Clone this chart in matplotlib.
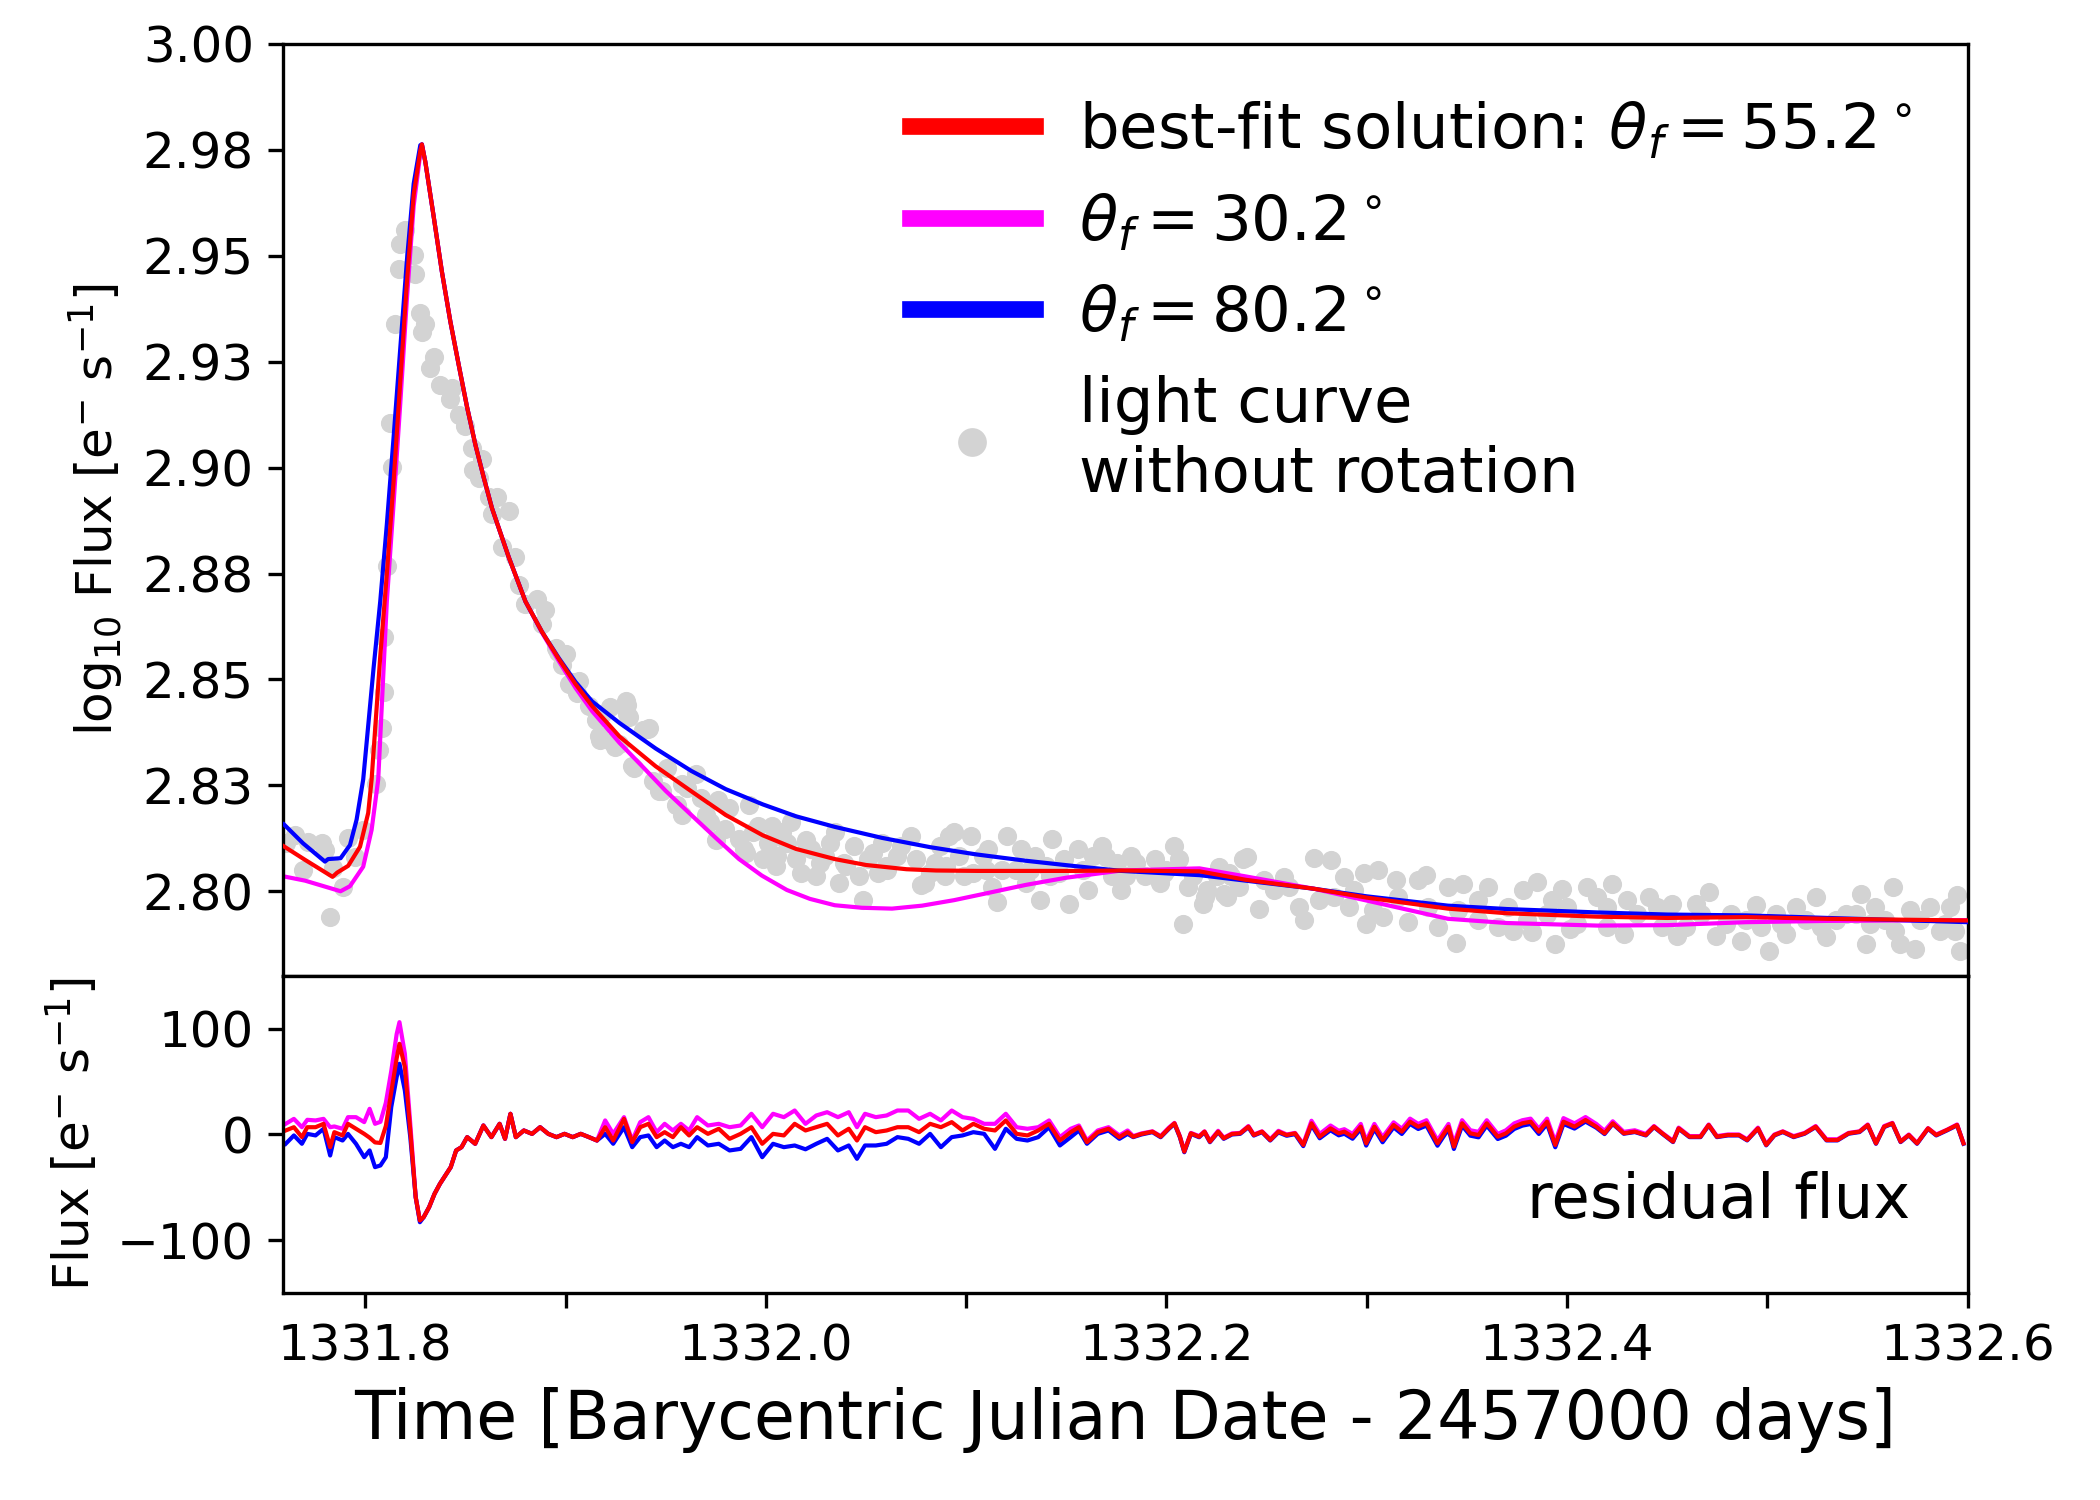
import matplotlib
matplotlib.use("Agg")
import matplotlib.pyplot as plt

# light curve without rotation (log10 flux)
lc_time = [
    1331.7607, 1331.7649, 1331.7716, 1331.7782, 1331.7799, 1331.7691, 1331.7840, 1331.7890, 1331.7824, 1331.7915,
    1331.7949, 1331.7990, 1331.8056,
    1331.8067, 1331.8083, 1331.8092, 1331.8095, 1331.8108, 1331.8125, 1331.8133, 1331.8150, 1331.8167,
    1331.8175, 1331.8200, 1331.8242, 1331.8250, 1331.8275, 1331.8283, 1331.8300, 1331.8325, 1331.8342, 1331.8375,
    1331.8425, 1331.8433, 1331.8467, 1331.8500, 1331.8533, 1331.8538, 1331.8567, 1331.8583, 1331.8617, 1331.8633,
    1331.8658, 1331.8683, 1331.8717, 1331.8750, 1331.8767, 1331.8800, 1331.8858, 1331.8883, 1331.8900, 1331.8950,
    1331.9000, 1331.9017, 1331.9067, 1331.9117, 1331.9167, 1331.9183, 1331.9233, 1331.9267, 1331.9300, 1331.9308,
    1331.9333, 1331.9417, 1331.9467, 1331.9550,
    1331.8960, 1331.8983, 1331.9031, 1331.9055, 1331.9150, 1331.9222, 1331.9305, 1331.9317, 1331.9174, 1331.9246,
    1331.9389, 1331.9413, 1331.9341, 1331.9484, 1331.9556, 1331.9604, 1331.9651, 1331.9675, 1331.9759, 1331.9699,
    1331.9795, 1331.9866, 1331.9914, 1331.9962, 1331.9985, 1332.0033, 1332.0081, 1332.0128, 1332.0176, 1332.0224,
    1332.0272, 1332.0319, 1332.0343, 1332.0367, 1332.0439, 1332.0486, 1332.0510, 1332.0558, 1332.0582, 1332.0653,
    1332.0725, 1332.0773, 1332.0821, 1332.0868, 1332.0916, 1332.0940, 1332.0987, 1332.1023, 1332.1083, 1332.1131,
    1332.1154, 1332.1202, 1332.1250, 1332.1298, 1332.1345, 1332.1369, 1332.1429, 1332.1465, 1332.1512, 1332.1560,
    1332.1608, 1332.1679, 1332.1727, 1332.1775, 1332.1823, 1332.1894, 1332.1966, 1332.2037, 1332.2085, 1332.2109,
    1332.2181, 1332.2252, 1332.2300, 1332.2383,
    1331.9580, 1331.9750, 1331.9900, 1332.0050, 1332.0200, 1332.0400, 1332.0600, 1332.0900, 1332.1100, 1332.1400,
    1332.1700, 1332.2000,
    1332.0009, 1332.0057, 1332.0105, 1332.0152, 1332.0200, 1332.0248, 1332.0296, 1332.0391, 1332.0463, 1332.0534,
    1332.0606, 1332.0677, 1332.0749, 1332.0797, 1332.0844, 1332.0892, 1332.0964, 1332.1035, 1332.1107, 1332.1178,
    1332.1274, 1332.1321, 1332.1417, 1332.1488, 1332.1584, 1332.1632, 1332.1751, 1332.1799, 1332.1847, 1332.1942,
    1332.1990, 1332.2061, 1332.2133, 1332.2204, 1332.2324,
    1331.9437, 1331.9508, 1331.9580, 1331.9723, 1331.9818, 1331.9890, 1331.9938,
    1332.2190, 1332.2264, 1332.2289, 1332.2401, 1332.2463, 1332.2488, 1332.2587, 1332.2661, 1332.2686, 1332.2736,
    1332.2822, 1332.2835, 1332.2884, 1332.2909, 1332.2984, 1332.2996, 1332.3058, 1332.3083, 1332.3145, 1332.3207,
    1332.3257, 1332.3294, 1332.3356, 1332.3405, 1332.3443, 1332.3480, 1332.3554, 1332.3604, 1332.3654, 1332.3728,
    1332.3778, 1332.3827, 1332.3852, 1332.3926, 1332.3939, 1332.3976, 1332.4013, 1332.4100, 1332.4150, 1332.4199,
    1332.4224, 1332.4286, 1332.4299, 1332.4410, 1332.4472, 1332.4522, 1332.4547, 1332.4646, 1332.4708, 1332.4745,
    1332.4820, 1332.4870, 1332.4944, 1332.5006, 1332.5043, 1332.5093, 1332.5142, 1332.5241, 1332.5291, 1332.5341,
    1332.5390, 1332.5465, 1332.5490, 1332.5539, 1332.5589, 1332.5626, 1332.5663, 1332.5713, 1332.5738, 1332.5812,
    1332.5862, 1332.5911, 1332.5949, 1332.5961,
    1332.2314, 1332.2363, 1332.2537, 1332.2612, 1332.2760, 1332.2934, 1332.3033, 1332.3157, 1332.3306, 1332.3455,
    1332.3554, 1332.3703, 1332.3802, 1332.3902, 1332.4001, 1332.4051, 1332.4200, 1332.4348, 1332.4447, 1332.4497,
    1332.4596, 1332.4671, 1332.4795, 1332.4894, 1332.4969, 1332.5068, 1332.5192, 1332.5266, 1332.5440, 1332.5514,
    1332.5638, 1332.5763, 1332.5887, 1332.5936,
]
lc_flux = [
    2.8114, 2.8133, 2.8117, 2.8114, 2.8098, 2.8050, 2.8054, 2.8010, 2.7939, 2.8125,
    2.8082, 2.8145, 2.8252,
    2.8333, 2.8385, 2.8470, 2.8599, 2.8768, 2.9105, 2.9002, 2.9339, 2.9469,
    2.9527, 2.9560, 2.9501, 2.9456, 2.9365, 2.9319, 2.9339, 2.9235, 2.9261, 2.9196,
    2.9163, 2.9189, 2.9125, 2.9099, 2.9047, 2.8995, 2.8976, 2.9021, 2.8930, 2.8891,
    2.8930, 2.8813, 2.8898, 2.8788, 2.8723, 2.8677, 2.8690, 2.8632, 2.8664, 2.8573,
    2.8560, 2.8489, 2.8496, 2.8437, 2.8366, 2.8418, 2.8353, 2.8347, 2.8450, 2.8418,
    2.8295, 2.8385, 2.8236, 2.8204,
    2.8565, 2.8533, 2.8493, 2.8469, 2.8404, 2.8436, 2.8440, 2.8412, 2.8356, 2.8340,
    2.8380, 2.8384, 2.8292, 2.8236, 2.8204, 2.8244, 2.8276, 2.8220, 2.8216, 2.8180,
    2.8147, 2.8123, 2.8204, 2.8155, 2.8075, 2.8155, 2.8139, 2.8163, 2.8043, 2.8099,
    2.8067, 2.8115, 2.8139, 2.8019, 2.8107, 2.7979, 2.8075, 2.8043, 2.8115, 2.8083,
    2.8131, 2.8015, 2.8043, 2.8107, 2.8131, 2.8139, 2.8035, 2.8131, 2.8083, 2.8011,
    2.7975, 2.8131, 2.8051, 2.8019, 2.8083, 2.7979, 2.8123, 2.8043, 2.7971, 2.8099,
    2.8003, 2.8107, 2.8035, 2.8003, 2.8083, 2.8035, 2.8019, 2.8107, 2.7922, 2.8011,
    2.7971, 2.8035, 2.7987, 2.8075,
    2.8180, 2.8120, 2.8090, 2.8060, 2.8120, 2.8060, 2.8060, 2.8060, 2.8050, 2.8060,
    2.8080, 2.8050,
    2.8115, 2.8083, 2.8115, 2.8075, 2.8115, 2.8035, 2.8083, 2.8067, 2.8035, 2.8091,
    2.8051, 2.8107, 2.8075, 2.8019, 2.8067, 2.8035, 2.8083, 2.8043, 2.8099, 2.8051,
    2.8099, 2.8051, 2.8035, 2.8075, 2.8051, 2.8083, 2.8067, 2.8035, 2.8067, 2.8075,
    2.8043, 2.8075, 2.8035, 2.8003, 2.8035,
    2.8260, 2.8292, 2.8252, 2.8163, 2.8196, 2.8099, 2.8139,
    2.7986, 2.8058, 2.7994, 2.8082, 2.7959, 2.8026, 2.8034, 2.7963, 2.7931, 2.8078,
    2.8074, 2.7986, 2.8034, 2.7963, 2.8042, 2.7923, 2.8050, 2.7939, 2.8026, 2.7927,
    2.8026, 2.8038, 2.7915, 2.8010, 2.7879, 2.8018, 2.7979, 2.8010, 2.7915, 2.7907,
    2.8002, 2.7903, 2.8022, 2.7979, 2.7875, 2.8006, 2.7911, 2.8010, 2.7986, 2.7915,
    2.8018, 2.7899, 2.7979, 2.7986, 2.7915, 2.7971, 2.7895, 2.7971, 2.7998, 2.7895,
    2.7947, 2.7883, 2.7967, 2.7860, 2.7947, 2.7899, 2.7963, 2.7986, 2.7891, 2.7931,
    2.7947, 2.7994, 2.7875, 2.7963, 2.7931, 2.8010, 2.7875, 2.7955, 2.7864, 2.7963,
    2.7907, 2.7963, 2.7990, 2.7860,
    2.8042, 2.8010, 2.8002, 2.8010, 2.7979, 2.8002, 2.7955, 2.7986, 2.7963, 2.7955,
    2.7931, 2.7963, 2.7931, 2.7947, 2.7963, 2.7923, 2.7963, 2.7947, 2.7963, 2.7931,
    2.7915, 2.7947, 2.7923, 2.7931, 2.7915, 2.7923, 2.7931, 2.7915, 2.7947, 2.7923,
    2.7907, 2.7931, 2.7923, 2.7907,
]

# model light curves
best_time = [
    1331.7594, 1331.7700, 1331.7837, 1331.7860, 1331.7915, 1331.7974, 1331.8015, 1331.8032, 1331.8075, 1331.8108,
    1331.8142, 1331.8175, 1331.8208, 1331.8242, 1331.8275, 1331.8283, 1331.8300, 1331.8342, 1331.8383, 1331.8425,
    1331.8467, 1331.8508, 1331.8550, 1331.8592, 1331.8633, 1331.8717, 1331.8800, 1331.8883, 1331.8967, 1331.9050,
    1331.9133, 1331.9270, 1331.9450, 1331.9628, 1331.9800, 1331.9985, 1332.0150, 1332.0344, 1332.0500, 1332.0702,
    1332.0850, 1332.1060, 1332.1536, 1332.1776, 1332.2165, 1332.2396, 1332.2735, 1332.3000, 1332.3405, 1332.3700,
    1332.4150, 1332.4500, 1332.4893, 1332.5300, 1332.6000,
]
best_flux = [
    2.8106, 2.8074, 2.8034, 2.8044, 2.8060, 2.8105, 2.8185, 2.8264, 2.8554, 2.8749,
    2.8969, 2.9203, 2.9436, 2.9644, 2.9748, 2.9763, 2.9722, 2.9592, 2.9462, 2.9345,
    2.9242, 2.9144, 2.9054, 2.8976, 2.8904, 2.8788, 2.8684, 2.8612, 2.8548, 2.8489,
    2.8437, 2.8365, 2.8295, 2.8236, 2.8180, 2.8132, 2.8100, 2.8076, 2.8062, 2.8052,
    2.8049, 2.8048, 2.8048, 2.8049, 2.8047, 2.8027, 2.8006, 2.7985, 2.7959, 2.7948,
    2.7940, 2.7937, 2.7939, 2.7935, 2.7931,
]

t30_time = [
    1331.7594, 1331.7700, 1331.7877, 1331.7924, 1331.7990, 1331.8032, 1331.8065, 1331.8108, 1331.8142, 1331.8175,
    1331.8208, 1331.8242, 1331.8275, 1331.8283, 1331.8300, 1331.8342, 1331.8383, 1331.8425, 1331.8467, 1331.8508,
    1331.8550, 1331.8592, 1331.8633, 1331.8717, 1331.8800, 1331.8883, 1331.8967, 1331.9050, 1331.9133, 1331.9270,
    1331.9389, 1331.9500, 1331.9628, 1331.9750, 1331.9866, 1331.9980, 1332.0105, 1332.0220, 1332.0344, 1332.0480,
    1332.0630, 1332.0780, 1332.0940, 1332.1100, 1332.1298, 1332.1500, 1332.1776, 1332.2165, 1332.2396, 1332.2735,
    1332.3000, 1332.3405, 1332.3700, 1332.4150, 1332.4500, 1332.4893, 1332.5300, 1332.6000,
]
t30_flux = [
    2.8035, 2.8025, 2.8000, 2.8012, 2.8058, 2.8145, 2.8264, 2.8684, 2.8917, 2.9151,
    2.9397, 2.9618, 2.9741, 2.9763, 2.9722, 2.9592, 2.9462, 2.9345, 2.9242, 2.9144,
    2.9054, 2.8976, 2.8904, 2.8788, 2.8684, 2.8610, 2.8543, 2.8480, 2.8425, 2.8350,
    2.8292, 2.8237, 2.8180, 2.8126, 2.8076, 2.8037, 2.8003, 2.7982, 2.7967, 2.7961,
    2.7959, 2.7966, 2.7979, 2.7995, 2.8015, 2.8032, 2.8049, 2.8054, 2.8035, 2.8006,
    2.7978, 2.7935, 2.7925, 2.7919, 2.7920, 2.7927, 2.7930, 2.7932,
]

t80_time = [
    1331.7594, 1331.7690, 1331.7799, 1331.7815, 1331.7877, 1331.7924, 1331.7957, 1331.7990, 1331.8042, 1331.8075,
    1331.8108, 1331.8142, 1331.8175, 1331.8208, 1331.8242, 1331.8275, 1331.8283, 1331.8300, 1331.8342, 1331.8383,
    1331.8425, 1331.8467, 1331.8508, 1331.8550, 1331.8592, 1331.8633, 1331.8717, 1331.8800, 1331.8883, 1331.8967,
    1331.9050, 1331.9133, 1331.9270, 1331.9450, 1331.9628, 1331.9800, 1331.9985, 1332.0150, 1332.0344, 1332.0580,
    1332.0821, 1332.1050, 1332.1298, 1332.1550, 1332.1776, 1332.2165, 1332.2396, 1332.2735, 1332.3000, 1332.3405,
    1332.3700, 1332.4150, 1332.4500, 1332.4893, 1332.5300, 1332.6000,
]
t80_flux = [
    2.8158, 2.8113, 2.8070, 2.8076, 2.8078, 2.8109, 2.8169, 2.8264, 2.8528, 2.8684,
    2.8866, 2.9073, 2.9281, 2.9488, 2.9670, 2.9761, 2.9763, 2.9722, 2.9592, 2.9462,
    2.9345, 2.9242, 2.9144, 2.9054, 2.8976, 2.8904, 2.8788, 2.8684, 2.8612, 2.8550,
    2.8494, 2.8448, 2.8397, 2.8337, 2.8284, 2.8241, 2.8205, 2.8177, 2.8152, 2.8126,
    2.8104, 2.8087, 2.8072, 2.8059, 2.8048, 2.8038, 2.8025, 2.8006, 2.7988, 2.7966,
    2.7958, 2.7950, 2.7945, 2.7943, 2.7937, 2.7927,
]

# residual flux [e- s-1]
res_time = [
    1331.7603, 1331.7644, 1331.7684, 1331.7711, 1331.7752, 1331.7792, 1331.7825, 1331.7846, 1331.7887, 1331.7914,
    1331.7954, 1331.7995, 1331.8022, 1331.8049, 1331.8076, 1331.8103, 1331.8130, 1331.8157, 1331.8171, 1331.8198,
    1331.8225, 1331.8252, 1331.8273, 1331.8292, 1331.8319, 1331.8346, 1331.8373, 1331.8400, 1331.8427, 1331.8454,
    1331.8481, 1331.8509, 1331.8549, 1331.8590, 1331.8630, 1331.8671, 1331.8698, 1331.8725, 1331.8752, 1331.8792,
    1331.8833, 1331.8873, 1331.8914, 1331.8955, 1331.8995, 1331.9036, 1331.9076, 1331.9117, 1331.9157, 1331.9198,
    1331.9238, 1331.9292, 1331.9333, 1331.9373, 1331.9414, 1331.9455, 1331.9495, 1331.9536, 1331.9576, 1331.9617,
    1331.9657, 1331.9711, 1331.9765, 1331.9819, 1331.9874, 1331.9928, 1331.9982, 1332.0036, 1332.0090, 1332.0144,
    1332.0198, 1332.0252, 1332.0306, 1332.0360, 1332.0414, 1332.0455, 1332.0495, 1332.0549, 1332.0603, 1332.0657,
    1332.0711, 1332.0765, 1332.0820, 1332.0874, 1332.0928, 1332.0982, 1332.1036, 1332.1090, 1332.1144, 1332.1198,
    1332.1252, 1332.1306, 1332.1360, 1332.1414, 1332.1468, 1332.1522, 1332.1563, 1332.1603, 1332.1657, 1332.1711,
    1332.1765, 1332.1806,
    1332.1834, 1332.1875, 1332.1930, 1332.1971, 1332.2012, 1332.2040, 1332.2067, 1332.2089, 1332.2122, 1332.2163,
    1332.2190, 1332.2217, 1332.2258, 1332.2286, 1332.2327, 1332.2368, 1332.2409, 1332.2436, 1332.2477, 1332.2518,
    1332.2559, 1332.2600, 1332.2642, 1332.2683, 1332.2724, 1332.2765, 1332.2819, 1332.2860, 1332.2888, 1332.2929,
    1332.2970, 1332.2997, 1332.3038, 1332.3079, 1332.3134, 1332.3175, 1332.3216, 1332.3257, 1332.3298, 1332.3353,
    1332.3408, 1332.3435, 1332.3476, 1332.3517, 1332.3558, 1332.3599, 1332.3654, 1332.3695, 1332.3736, 1332.3777,
    1332.3818, 1332.3859, 1332.3900, 1332.3941, 1332.3982, 1332.4037, 1332.4092, 1332.4146, 1332.4187, 1332.4228,
    1332.4283, 1332.4338, 1332.4393, 1332.4434, 1332.4475, 1332.4529, 1332.4557, 1332.4611, 1332.4666, 1332.4707,
    1332.4748, 1332.4803, 1332.4858, 1332.4899, 1332.4953, 1332.4994, 1332.5035, 1332.5077, 1332.5131, 1332.5186,
    1332.5241, 1332.5295, 1332.5350, 1332.5405, 1332.5460, 1332.5501, 1332.5542, 1332.5583, 1332.5624, 1332.5665,
    1332.5706, 1332.5747, 1332.5802, 1332.5843, 1332.5897, 1332.5947, 1332.5979,
]
res_best = [
    3.8, 6.9, -2.5, 6.9, 6.9, 10.1, -12.0, 2.2, -0.9, 10.1,
    5.4, 0.6, -3.0, -7.5, -8.0, 8.0, 40.0, 72.0, 85.8, 63.7,
    3.8, -59.3, -81.4, -78.2, -68.8, -56.2, -46.7, -38.8, -30.9, -15.1,
    -12.0, -2.5, -8.8, 8.5, -2.5, 10.1, -4.1, 19.6, -2.5, 3.8,
    0.6, 6.9, 0.6, -2.5, 0.6, -2.5, 0.6, -2.5, -5.7, 6.9,
    -5.7, 14.8, -7.3, 6.9, 10.1, -2.5, 2.2, -2.5, 6.9, -0.9,
    6.9, 0.6, 5.4, -4.1, 0.6, 6.9, -8.8, 0.6, -0.9, 10.1,
    3.8, 6.9, 10.1, -0.9, 5.4, -5.7, 6.9, 2.2, 3.8, 6.9,
    6.9, 2.2, 10.1, 6.9, 11.7, 3.8, 10.1, 5.4, 3.8, 13.3,
    0.6, -0.9, 3.8, 10.1, -5.7, 2.2, 6.9, -7.3, 2.2, 5.4,
    -2.5, 2.2,
    -2.1, 0.5, 2.7, -2.1, 5.8, 10.6, -2.1, -16.2, 1.1, -2.1,
    2.7, -6.8, 2.7, -3.6, 0.5, 1.1, 7.4, -0.5, 2.7, -5.2,
    2.7, -0.5, 1.1, -9.9, 10.6, -2.1, 5.8, 1.1, 2.7, -2.1,
    7.4, -8.4, 7.4, -5.2, 9.0, 2.7, 12.1, 7.4, 10.6, -8.4,
    7.4, -11.5, 10.6, 1.1, -0.5, 10.6, -2.1, 1.1, 7.4, 10.6,
    12.1, 2.7, 12.1, -9.9, 12.1, 7.4, 13.7, 7.4, 1.1, 10.6,
    1.1, 2.7, -0.5, 7.4, 1.1, -6.8, 5.8, -2.1, -2.1, 9.0,
    -2.1, -0.5, -0.5, -5.2, 5.8, -9.9, -0.5, 2.7, -2.1, 1.1,
    7.4, -5.2, -5.2, 1.1, 2.7, 9.0, -8.4, 7.4, 10.6, -6.8,
    -0.5, -8.4, 5.8, -0.5, 4.3, 9.0, -8.4,
]
res_30 = [
    10.1, 14.8, 6.9, 13.9, 13.3, 14.8, 6.9, 7.6, 5.4, 16.4,
    16.4, 11.7, 24.3, 10.1, 12.0, 30.0, 60.0, 95.0, 106.3, 76.4,
    10.1, -59.3, -81.4, -78.2, -68.8, -56.2, -46.7, -38.8, -30.9, -15.1,
    -12.0, -2.5, -8.8, 8.5, -2.5, 10.1, -4.1, 19.6, -2.5, 3.8,
    0.6, 6.9, 0.6, -2.5, 0.6, -2.5, 0.6, -2.5, -5.7, 13.3,
    0.6, 16.4, -5.7, 11.7, 16.4, 2.2, 10.1, 3.8, 10.1, 3.8,
    16.4, 8.5, 10.1, 6.9, 8.5, 19.6, 6.9, 19.6, 16.4, 22.7,
    10.1, 18.0, 21.1, 16.4, 21.1, 6.9, 19.6, 16.4, 18.0, 22.7,
    22.7, 14.8, 19.6, 13.3, 22.7, 16.4, 14.8, 10.1, 10.1, 19.6,
    6.9, 5.4, 6.9, 13.3, -2.5, 5.4, 8.5, -5.7, 3.8, 6.9,
    -0.9, 3.8,
    -1.5, 1.0, 3.0, -1.5, 6.5, 11.0, -1.5, -15.5, 1.5, -1.5,
    3.0, -6.0, 3.5, -3.0, 1.0, 1.5, 8.0, 0.0, 3.0, -4.5,
    3.5, 0.0, 1.5, -9.0, 13.0, 0.5, 8.5, 3.5, 5.0, 0.5,
    10.0, -6.0, 10.0, -2.5, 11.5, 5.5, 15.0, 10.0, 13.5, -5.5,
    10.0, -8.5, 13.5, 4.0, 2.5, 13.5, 0.5, 4.0, 10.5, 13.5,
    15.0, 5.5, 15.0, -7.0, 15.5, 10.5, 16.5, 10.0, 3.5, 12.5,
    2.5, 4.0, 0.5, 8.0, 1.5, -6.0, 6.5, -1.5, -1.5, 9.5,
    -1.5, 0.0, 0.0, -4.5, 6.5, -9.0, 0.0, 3.0, -1.5, 1.5,
    8.0, -4.5, -4.5, 1.5, 3.0, 9.5, -8.0, 8.0, 11.0, -6.5,
    0.0, -8.0, 6.0, 0.0, 4.5, 9.5, -8.0,
]
res_80 = [
    -8.8, -0.9, -8.8, 0.6, -0.9, 5.4, -19.9, -2.5, -5.7, 0.6,
    -8.8, -21.5, -15.1, -30.9, -29.3, -21.5, 25.9, 54.3, 66.9, 41.6,
    -2.5, -59.3, -83.0, -78.2, -68.8, -56.2, -46.7, -38.8, -30.9, -15.1,
    -12.0, -2.5, -8.8, 8.5, -2.5, 10.1, -4.1, 19.6, -2.5, 3.8,
    0.6, 6.9, 0.6, -2.5, 0.6, -2.5, 0.6, -2.5, -5.7, 0.6,
    -8.8, 6.9, -12.0, -2.5, -0.9, -12.0, -5.7, -12.0, -8.8, -12.0,
    -2.5, -10.4, -8.8, -15.1, -13.6, -2.5, -21.5, -8.8, -12.0, -10.4,
    -14.0, -8.8, -4.1, -15.1, -10.4, -23.0, -10.4, -10.4, -8.8, -2.5,
    -4.1, -8.8, 0.6, -12.0, -2.5, -0.9, 2.2, 0.6, -13.6, 5.4,
    -4.1, -5.7, -2.5, 6.9, -10.4, -2.5, 3.8, -8.8, 0.6, 3.8,
    -4.1, 0.6,
    -2.5, 0.0, 2.2, -2.6, 5.3, 10.0, -2.6, -16.8, 0.6, -2.6,
    2.2, -7.3, 2.2, -4.1, 0.0, 0.6, 6.9, -1.0, 2.2, -5.7,
    2.0, -1.2, 0.3, -11.0, 9.0, -3.6, 4.0, -0.8, 0.7, -4.0,
    5.2, -10.5, 5.2, -7.4, 6.8, 0.5, 10.0, 5.2, 8.4, -10.6,
    5.2, -13.7, 8.4, -1.1, -2.7, 8.4, -4.3, -1.1, 5.2, 8.4,
    9.9, 0.5, 9.9, -12.1, 10.0, 5.6, 12.2, 6.4, 0.4, 10.0,
    0.7, 2.3, -0.9, 7.0, 0.7, -7.2, 5.4, -2.5, -2.5, 8.6,
    -2.5, -0.9, -0.9, -5.6, 5.4, -10.3, -0.9, 2.3, -2.5, 0.7,
    7.0, -5.6, -5.6, 0.7, 2.3, 8.6, -8.8, 7.0, 10.2, -7.2,
    -0.9, -8.8, 5.4, -0.9, 3.9, 8.6, -8.8,
]

y_ticks = [2.800, 2.825, 2.850, 2.875, 2.900, 2.925, 2.950, 2.975, 3.000]
y_ticklabels = ["2.80", "2.83", "2.85", "2.88", "2.90", "2.93", "2.95", "2.98", "3.00"]
x_ticks = [1331.8, 1331.9, 1332.0, 1332.1, 1332.2, 1332.3, 1332.4, 1332.5, 1332.6]
x_ticklabels = ["1331.8", "", "1332.0", "", "1332.2", "", "1332.4", "", "1332.6"]


fig = plt.figure(figsize=(7, 5), dpi=300)
gs = fig.add_gridspec(2, 1, height_ratios=[2.94, 1], hspace=0,
                      left=0.1348, right=0.937, top=0.9707, bottom=0.138)
ax1 = fig.add_subplot(gs[0])
ax2 = fig.add_subplot(gs[1], sharex=ax1)

h_lc, = ax1.plot(lc_time, lc_flux, "o", color="lightgray", ms=4.6, mec="none",
                 label="light curve\nwithout rotation", zorder=1)
h_30, = ax1.plot(t30_time, t30_flux, color="magenta", lw=1.0,
                 label=r"$\theta_f = 30.2^\circ$", zorder=2)
h_80, = ax1.plot(t80_time, t80_flux, color="blue", lw=1.0,
                 label=r"$\theta_f = 80.2^\circ$", zorder=3)
h_best, = ax1.plot(best_time, best_flux, color="red", lw=1.0,
                   label=r"best-fit solution: $\theta_f = 55.2^\circ$", zorder=4)

ax1.set_ylim(2.78, 3.0)
ax1.set_yticks(y_ticks)
ax1.set_yticklabels(y_ticklabels)
ax1.set_ylabel(r"log$_{10}$ Flux [e$^{-}$ s$^{-1}$]", fontsize=12)
ax1.tick_params(axis="y", labelsize=12)
ax1.tick_params(axis="x", which="both", bottom=False, labelbottom=False)

leg = ax1.legend(handles=[h_best, h_30, h_80, h_lc], loc="upper right", frameon=False,
                 fontsize=15, markerscale=1.5, handlelength=2.0, handletextpad=0.7)
for line in leg.get_lines()[:3]:
    line.set_linewidth(4)

ax2.plot(res_time, res_30, color="magenta", lw=1.0)
ax2.plot(res_time, res_80, color="blue", lw=1.0)
ax2.plot(res_time, res_best, color="red", lw=1.0)
ax2.set_ylim(-150, 150)
ax2.set_yticks([-100, 0, 100])
ax2.set_ylabel(r"Flux [e$^{-}$ s$^{-1}$]", fontsize=12)
ax2.text(0.966, 0.29, "residual flux", transform=ax2.transAxes,
         ha="right", va="center", fontsize=15)

ax2.set_xlim(1331.759, 1332.6)
ax2.set_xticks(x_ticks)
ax2.set_xticklabels(x_ticklabels)
ax2.tick_params(labelsize=12)
ax2.set_xlabel("Time [Barycentric Julian Date - 2457000 days]", fontsize=16)

fig.savefig("out.png", dpi=300)
